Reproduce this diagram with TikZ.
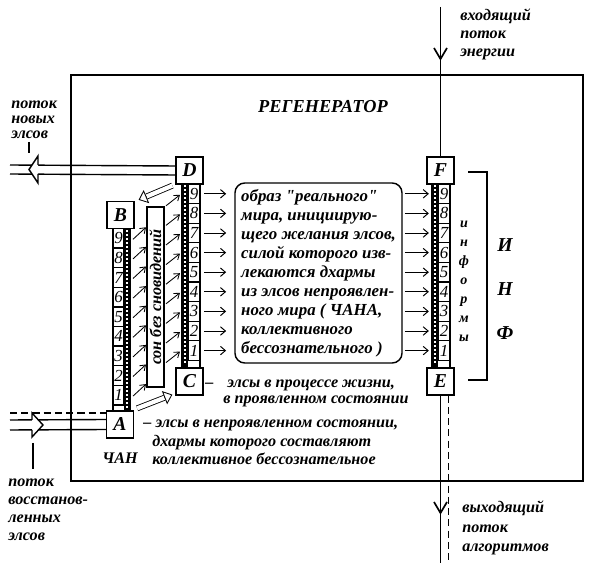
\documentclass[tikz,border=0pt]{standalone}
\usepackage{fontspec}
\setmainfont{Liberation Serif}[Ligatures=TeXOff]
\usepackage{tikz}
\usetikzlibrary{arrows.meta,calc}

\tikzset{
  txt/.style={font=\fontsize{11.5}{13.5}\selectfont\bfseries\itshape, inner sep=0pt, align=left},
  letter/.style={draw, line width=0.9pt, fill=white, minimum size=0.675cm, inner sep=0pt,
    font=\fontsize{14}{14}\selectfont\bfseries\itshape},
  cell/.style={draw, line width=0.9pt, fill=white, minimum width=0.275cm, minimum height=0.49cm,
    inner sep=0pt, font=\fontsize{12}{12}\selectfont\itshape},
  pipe/.style={line width=1pt},
  rarr/.style={line width=0.7pt, -{Straight Barb[length=3.5pt,width=6pt]}},
  darr/.style={line width=0.6pt, -{Straight Barb[length=3.5pt,width=5pt]}},
}

\newcommand{\hollowarrow}[2]{%
  \draw[line width=0.6pt, double distance=3pt, shorten >=6pt] (#1) -- (#2);
  \draw[line width=0.6pt, -{Triangle[open,length=6pt,width=10pt]}] ($(#2)!6pt!(#1)$) -- (#2);}

\begin{document}
\begin{tikzpicture}[x=0.025cm, y=-0.025cm]
\useasboundingbox (0,0) rectangle (600,563);

% regenerator frame
\draw[line width=2.1pt] (71,75) rectangle (583,481);
\node[txt, font=\fontsize{13}{13}\selectfont\bfseries\itshape] (title) at (323,107) {РЕГЕНЕРАТОР};

% letter boxes
\node[letter] (D) at (189.5,170.5) {D};
\node[letter] (C) at (189.5,381.5) {C};
\node[letter] (B) at (120.5,215) {B};
\node[letter] (A) at (120,424.5) {A};
\node[letter] (F) at (440.5,170.5) {F};
\node[letter] (E) at (440.5,381.5) {E};

% left column B - A: cells left, strip right
\fill (124,228.5) rectangle (130,411);
\foreach \k in {0,...,44} \fill[white] (126,{230+\k*4}) rectangle ++(2,2);
\foreach \i in {1,...,9} {
  \pgfmathsetmacro{\yy}{228.5+(9-\i+0.5)*19.6}
  \node[cell] (b\i) at (118.5,\yy) {\i};
  \draw[darr] (133,{\yy+1}) -- ++(13,-12);
}
\draw[line width=1pt] (113,228.5) rectangle (130,411);

% middle column D - C: strip left, cells right
\fill (182,184) rectangle (188,368);
\foreach \k in {0,...,44} \fill[white] (184,{185.5+\k*4}) rectangle ++(2,2);
\foreach \i in {1,...,9} {
  \pgfmathsetmacro{\yy}{184+(9-\i+0.5)*19.6}
  \node[cell] (d\i) at (194,\yy) {\i};
  \draw[darr] (166,{\yy+12}) -- ++(14,-11);
  \draw[rarr] ([xshift=0.1cm]d\i.east) -- ++(22,0);
}
\draw[line width=1pt] (182,184) rectangle (200,368);

% right column F - E: strip left, cells right
\fill (432,184) rectangle (438,368);
\foreach \k in {0,...,44} \fill[white] (434,{185.5+\k*4}) rectangle ++(2,2);
\foreach \i in {1,...,9} {
  \pgfmathsetmacro{\yy}{184+(9-\i+0.5)*19.6}
  \node[cell] (f\i) at (444,\yy) {\i};
  \draw[rarr] ([xshift=-0.825cm]f\i.west) -- ++(24,0);
}
\draw[line width=1pt] (432,184) rectangle (450,368);

% sleep box
\node[draw, line width=0.9pt, fill=white, rotate=90, minimum width=4.5cm, minimum height=0.425cm,
  inner sep=0pt, font=\fontsize{11.5}{11.5}\selectfont\bfseries\itshape] (son) at (155.5,297) {сон без сновидений};

% image of the real world
\node[txt, font=\fontsize{12}{13.5}\selectfont\bfseries\itshape, draw, line width=1pt, rounded corners=7pt,
  minimum width=4.175cm, minimum height=4.5cm] (img)
  at (318.5,273) {образ "реального"\\мира, инициирую-\\щего желания элсов,\\силой которого изв-\\лекаются дхармы\\из элсов непроявлен-\\ного мира ( ЧАНА,\\коллективного\\бессознательного )};

% hollow arrows
\coordinate (dbTail) at ($(D.south west)+(-3,1)$);
\coordinate (dbTip) at ($(B.north east)+(4,-1)$);
\coordinate (acTail) at ($(A.north east)+(3,-2)$);
\coordinate (acTip) at ($(C.south west)+(-3,-1)$);
\hollowarrow{dbTail}{dbTip}
\hollowarrow{acTail}{acTip}

% flow of new elsy (outgoing)
\coordinate (newsrc) at (10,169.5);
\draw[pipe] ([yshift=0.1125cm]newsrc) -- ([yshift=0.1125cm]D.west);
\draw[pipe] ([yshift=-0.1125cm]newsrc) -- ([yshift=-0.1125cm]D.west);
\fill[white] (38,156) -- (29,169.5) -- (38,183) -- cycle;
\draw[pipe] (38,165) -- (38,156) -- (29,169.5) -- (38,183) -- (38,174);
\draw[line width=0.8pt] (29,142) -- (29,153);
\node[txt, anchor=base west, font=\fontsize{11.5}{10.7}\selectfont\bfseries\itshape] (newlbl) at (11,139) {поток\\новых\\элсов};

% flow of restored elsy (incoming)
\coordinate (oldsrc) at (10,425);
\draw[pipe] ([yshift=0.125cm]oldsrc) -- ([yshift=0.125cm]A.west);
\draw[pipe] ([yshift=-0.125cm]oldsrc) -- ([yshift=-0.125cm]A.west);
\draw[pipe, dash pattern=on 5pt off 3pt] ([yshift=0.3cm]oldsrc) -- ([yshift=0.3cm]oldsrc -| A.west);
\fill[white] (32,413) -- (43,425) -- (32,437) -- cycle;
\draw[pipe] (32,420) -- (32,413) -- (43,425) -- (32,437) -- (32,430);
\draw[line width=0.8pt] (33,443) -- (33,469);
\node[txt, anchor=base west, font=\fontsize{11.5}{12.8}\selectfont\bfseries\itshape] (oldlbl) at (8,541) {поток\\восстанов-\\ленных\\элсов};

% energy in, algorithms out
\coordinate (energy) at (440.5,7);
\coordinate (algo) at (440.5,563);
\draw[line width=1.2pt] (energy) -- (F.north);
\draw[line width=1.2pt] (434,48) -- (440.5,59) -- (447,48);
\draw[line width=1.2pt] (E.south) -- (algo);
\draw[line width=1.2pt, dash pattern=on 5pt off 3pt] ([xshift=0.2cm]E.south) -- ([xshift=0.2cm]algo);
\draw[line width=1.2pt] (434,502) -- (440.5,513) -- (447,502);
\node[txt, anchor=base west, font=\fontsize{11.5}{12.8}\selectfont\bfseries\itshape] (inlbl) at (460,57) {входящий\\поток\\энергии};
\node[txt, anchor=base west, font=\fontsize{11.5}{14.2}\selectfont\bfseries\itshape] (outlbl) at (462,552) {выходящий\\поток\\алгоритмов};

% informs
\draw[line width=0.8pt] (468,172) -- (487,172) -- (487,380) -- (468,380);
\node[txt, align=center, font=\fontsize{10}{13.5}\selectfont\bfseries\itshape] (inform) at (464,281) {и\\н\\ф\\о\\р\\м\\ы};
\node[txt, align=center, font=\fontsize{14}{31}\selectfont\bfseries\itshape] (inf) at (505,289) {И\\Н\\Ф};

% captions
\node[txt, anchor=base west, font=\fontsize{11.5}{11.4}\selectfont\bfseries\itshape] (lifelbl) at (205,404)
  {–\hspace{10pt}элсы в процессе жизни,\\\hspace*{12.8pt}в проявленном состоянии};
\node[txt, anchor=base west] (chanlbl) at (143,465)
  {–\hspace{3pt}элсы в непроявленном состоянии,\\\hspace*{6.4pt}дхармы которого составляют\\\hspace*{6.4pt}коллективное бессознательное};
\node[txt, anchor=base west] (chan) at (102,464) {ЧАН};
\end{tikzpicture}
\end{document}
